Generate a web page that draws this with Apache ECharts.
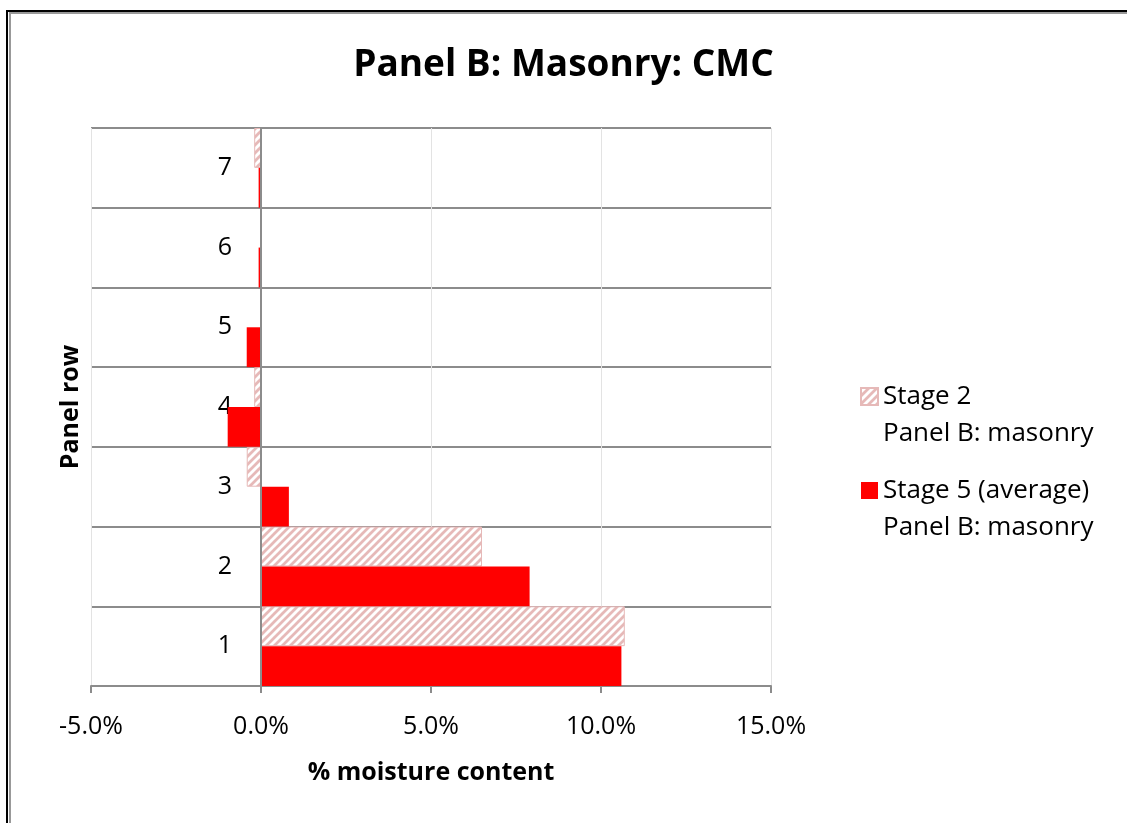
<!DOCTYPE html>
<html>
<head>
<meta charset="utf-8">
<script src="https://cdn.jsdelivr.net/npm/echarts@6/dist/echarts.min.js"></script>
<style>
  html, body { margin: 0; padding: 0; background: #fff; }
  #chart { width: 1127px; height: 823px; }
</style>
</head>
<body>
<div id="chart"></div>
<script>
// Panel rows, bottom to top
const rows = ['1', '2', '3', '4', '5', '6', '7'];
// Moisture content (%) per panel row
const stage2 = [10.7, 6.5, -0.42, -0.2, 0, 0, -0.2];
const stage5 = [10.6, 7.9, 0.82, -0.98, -0.42, -0.07, -0.07];
const seriesNames = ['Stage 2\nPanel B: masonry', 'Stage 5 (average)\nPanel B: masonry'];
const xTicks = { min: -5, max: 15, step: 5 };

const FONT = '"Open Sans", "Liberation Sans", sans-serif';
const PINK = '#e6b9b8';
const RED = '#ff0000';
const AXIS_GREY = '#8c8c8c';

// Diagonal hatch fill for the Stage 2 bars
function hatch() {
  const c = document.createElement('canvas');
  c.width = 8; c.height = 8;
  const g = c.getContext('2d');
  g.fillStyle = '#ffffff';
  g.fillRect(0, 0, 8, 8);
  g.strokeStyle = PINK;
  g.lineWidth = 2.8;
  g.beginPath();
  g.moveTo(-2, 2); g.lineTo(2, -2);
  g.moveTo(-1, 9); g.lineTo(9, -1);
  g.moveTo(6, 10); g.lineTo(10, 6);
  g.stroke();
  return { image: c, repeat: 'repeat' };
}

const chart = echarts.init(document.getElementById('chart'), null, { renderer: 'canvas' });

chart.setOption({
  animation: false,
  backgroundColor: '#ffffff',
  title: {
    text: 'Panel B: Masonry: CMC',
    left: 'center',
    top: 42,
    textStyle: { fontFamily: FONT, fontSize: 37, fontWeight: 'bold', color: '#000' }
  },
  graphic: [
    { type: 'rect', silent: true, shape: { x: 7, y: 11, width: 2000, height: 2000 },
      style: { fill: 'none', stroke: '#000', lineWidth: 2 } },
    { type: 'rect', silent: true, shape: { x: 10, y: 13, width: 2000, height: 2000 },
      style: { fill: 'none', stroke: '#999', lineWidth: 2 } }
  ],
  legend: {
    orient: 'vertical',
    left: 860,
    top: 341,
    padding: 0,
    itemGap: -17,
    itemWidth: 17,
    itemHeight: 17,
    icon: 'rect',
    data: seriesNames,
    // empty leading line keeps the first text line level with the swatch
    formatter: name => '\n' + name,
    textStyle: { fontFamily: FONT, fontSize: 26, color: '#000', lineHeight: 37 }
  },
  grid: { left: 91, right: 356, top: 128, bottom: 137, containLabel: false, outerBoundsMode: 'none' },
  xAxis: {
    type: 'value',
    min: xTicks.min,
    max: xTicks.max,
    interval: xTicks.step,
    name: '% moisture content',
    nameLocation: 'middle',
    nameGap: 74,
    nameTextStyle: { fontFamily: FONT, fontSize: 25, fontWeight: 'bold', color: '#000' },
    axisLine: { show: true, onZero: false, lineStyle: { color: AXIS_GREY, width: 2 } },
    axisTick: { show: true, length: 7, lineStyle: { color: AXIS_GREY, width: 2 } },
    axisLabel: {
      margin: 28,
      fontFamily: FONT, fontSize: 25, color: '#000',
      formatter: v => v.toFixed(1) + '%'
    },
    splitLine: { show: true, lineStyle: { color: '#e3e3e3', width: 1 } }
  },
  yAxis: {
    type: 'category',
    data: rows,
    name: 'Panel row',
    nameLocation: 'middle',
    nameGap: 8,
    nameTextStyle: { fontFamily: FONT, fontSize: 25, fontWeight: 'bold', color: '#000' },
    axisLine: { show: false },
    axisTick: { show: false },
    axisLabel: { margin: -141, fontFamily: FONT, fontSize: 25, color: '#000' },
    splitLine: { show: true, lineStyle: { color: AXIS_GREY, width: 2 } }
  },
  series: [
    {
      name: seriesNames[0],
      type: 'bar',
      data: stage2,
      barGap: '0%',
      barCategoryGap: '0%',
      itemStyle: { color: hatch(), borderColor: PINK, borderWidth: 1 }
    },
    {
      name: seriesNames[1],
      type: 'bar',
      data: stage5,
      barGap: '0%',
      barCategoryGap: '0%',
      itemStyle: { color: RED },
      // vertical category axis line at zero, drawn over the bars
      markLine: {
        silent: true,
        symbol: 'none',
        label: { show: false },
        lineStyle: { color: AXIS_GREY, width: 2, type: 'solid' },
        data: [{ xAxis: 0 }]
      }
    }
  ]
});
</script>
</body>
</html>
